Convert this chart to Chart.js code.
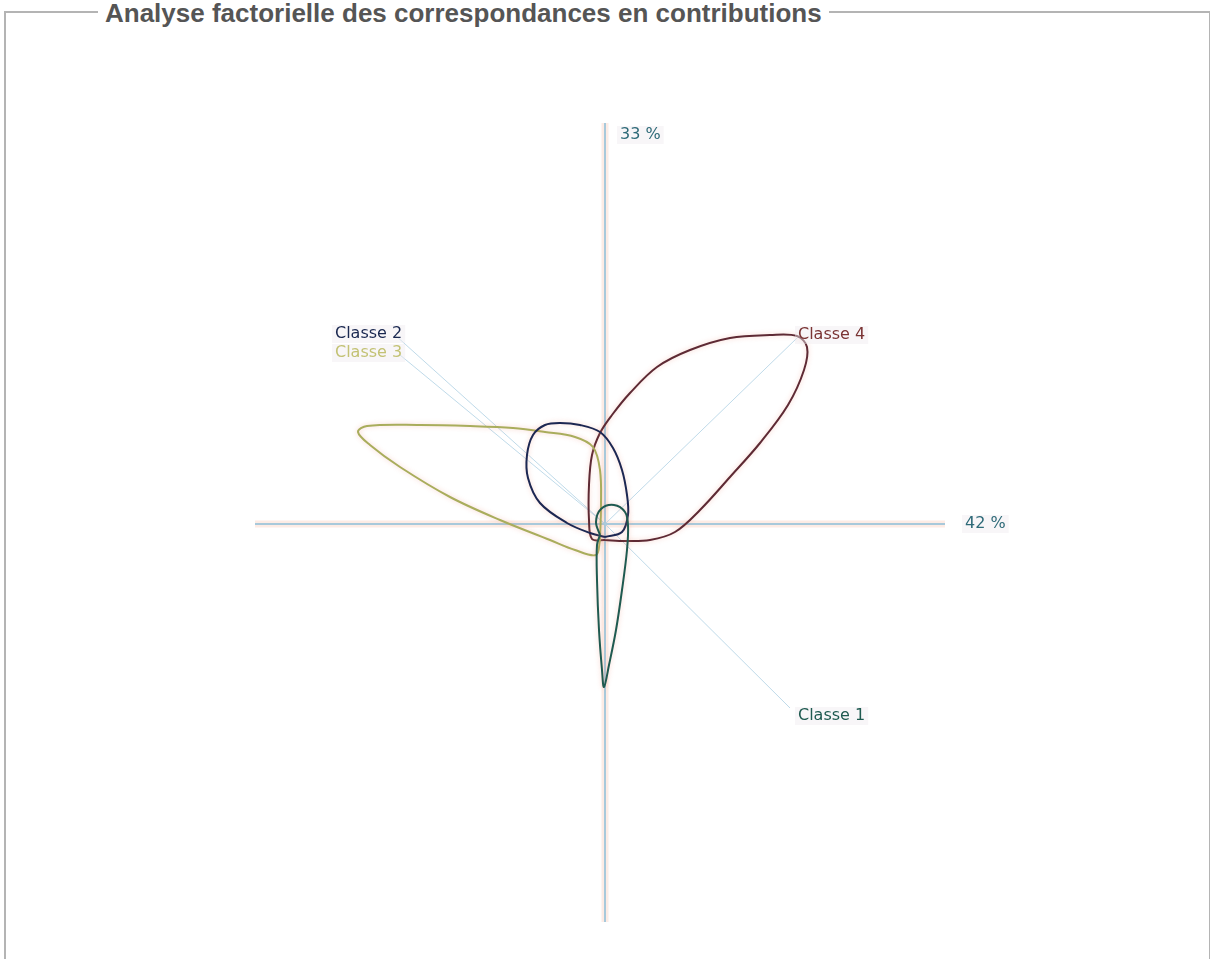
<!DOCTYPE html>
<html>
<head>
<meta charset="utf-8">
<script src="https://cdn.jsdelivr.net/npm/chart.js@4/dist/chart.umd.min.js"></script>
<style>
  html,body{margin:0;padding:0;background:#fff;width:1210px;height:959px;overflow:hidden;}
  #frame{position:absolute;left:4px;top:11px;width:1203px;height:960px;border-left:2px solid #b4b4b4;border-top:2px solid #b4b4b4;border-right:2px solid #b4b4b4;}
  #title{position:absolute;left:98px;top:0px;padding:0 7px;background:#fff;font:bold 26px "Liberation Sans",Arial,sans-serif;color:#555;white-space:nowrap;line-height:26px;}
  #c{position:absolute;left:0;top:0;}
</style>
</head>
<body>
<div id="frame"></div>
<div id="title">Analyse factorielle des correspondances en contributions</div>
<canvas id="c" width="1210" height="959"></canvas>
<script>
// Factor axes (percent of inertia)
const axisLabels = ['42 %', '33 %'];
const axisLabelPos = [[3.60, 0.00], [0.15, 3.89]];
const hAxis = [[-3.50, 0], [3.40, 0]];
const vAxis = [[0, 4.01], [0, -3.98]];

// Classes
const classNames = ['Classe 1', 'Classe 2', 'Classe 3', 'Classe 4'];
const classLabelPos = [[1.93, -1.92], [-2.70, 1.90], [-2.70, 1.71], [1.93, 1.89]];
const classRayEnd = [[1.85, -1.84], [-2.10, 1.89], [-2.05, 1.69], [1.92, 1.86]];
const classColors = ['#1f5a50', '#1c2752', '#a9ad5c', '#5e2a34'];
const classTextColors = ['#1f5a50', '#1a2850', '#c3c274', '#7a3434'];

// Contribution loops (x, y) per class
const loop1 = [[-0.05,-0.11],[-0.08,-0.21],[-0.08,-0.56],[-0.06,-1.06],[-0.03,-1.46],[-0.01,-1.63],[0.04,-1.41],[0.11,-1.06],[0.17,-0.66],[0.22,-0.26],[0.23,-0.01],[0.20,0.12],[0.09,0.19],[-0.04,0.15],[-0.09,0.02],[-0.05,-0.11]];
const loop2 = [[0,-0.13],[-0.15,-0.09],[-0.38,0.01],[-0.65,0.21],[-0.77,0.46],[-0.78,0.69],[-0.72,0.89],[-0.60,0.99],[-0.45,1.01],[-0.25,0.99],[-0.05,0.92],[0.08,0.76],[0.17,0.54],[0.22,0.29],[0.23,0.09],[0.17,-0.08],[0,-0.13]];
const loop3 = [[-0.05,-0.16],[-0.09,-0.31],[-0.30,-0.26],[-0.55,-0.16],[-1.05,0.04],[-1.55,0.27],[-2.05,0.57],[-2.35,0.79],[-2.47,0.92],[-2.38,0.98],[-1.85,0.99],[-1.35,0.98],[-0.92,0.96],[-0.60,0.92],[-0.30,0.87],[-0.12,0.77],[-0.05,0.54],[-0.04,0.19],[-0.05,-0.16]];
const loop4 = [[0,-0.16],[-0.13,-0.15],[-0.16,0.04],[-0.16,0.39],[-0.13,0.69],[-0.05,0.91],[0.07,1.09],[0.25,1.31],[0.52,1.57],[0.85,1.74],[1.25,1.86],[1.65,1.89],[1.92,1.88],[2.02,1.77],[1.99,1.54],[1.83,1.19],[1.55,0.81],[1.25,0.47],[0.95,0.14],[0.70,-0.08],[0.45,-0.16],[0.20,-0.17],[0,-0.16]];
const loops = [loop1, loop2, loop3, loop4];

const toPts = arr => arr.map(p => ({x: p[0], y: p[1]}));
const datasets = [];
// axes: soft pink halo + light blue line
[hAxis, vAxis].forEach(a => {
  datasets.push({data: toPts(a), borderColor: 'rgba(252,228,218,0.7)', borderWidth: 7, tension: 0, order: 4});
  datasets.push({data: toPts(a), borderColor: '#a8c9db', borderWidth: 2, tension: 0, order: 3});
});
// rays from origin to each class
classRayEnd.forEach(e => {
  datasets.push({data: toPts([[0, 0], e]), borderColor: 'rgba(170,205,225,0.75)', borderWidth: 1, tension: 0, order: 2});
});
// loops
loops.forEach((l, i) => {
  datasets.push({data: toPts(l), borderColor: classColors[i], borderWidth: 2, tension: 0.35, order: 1, kind: 'loop'});
});
datasets.forEach(d => { d.showLine = true; d.pointRadius = 0; d.fill = false; });

const textPlugin = {
  id: 'texts',
  beforeDatasetDraw(chart, args) {
    const ds = chart.data.datasets[args.index];
    if (ds.kind === 'loop') {
      chart.ctx.save();
      chart.ctx.shadowColor = 'rgba(240,150,130,0.45)';
      chart.ctx.shadowBlur = 5;
    }
  },
  afterDatasetDraw(chart, args) {
    const ds = chart.data.datasets[args.index];
    if (ds.kind === 'loop') chart.ctx.restore();
  },
  afterDatasetsDraw(chart) {
    const ctx = chart.ctx, xs = chart.scales.x, ys = chart.scales.y;
    ctx.save();
    ctx.font = '16px "DejaVu Sans", sans-serif';
    ctx.textBaseline = 'middle';
    ctx.textAlign = 'left';
    const draw = (txt, pos, col) => {
      const px = xs.getPixelForValue(pos[0]), py = ys.getPixelForValue(pos[1]);
      const w = ctx.measureText(txt).width;
      ctx.fillStyle = 'rgba(240,236,240,0.45)';
      ctx.fillRect(px - 3, py - 9, w + 6, 18);
      ctx.fillStyle = col;
      ctx.fillText(txt, px, py);
    };
    axisLabels.forEach((t, i) => draw(t, axisLabelPos[i], '#2e6a78'));
    classNames.forEach((t, i) => draw(t, classLabelPos[i], classTextColors[i]));
    ctx.restore();
  }
};

new Chart(document.getElementById('c'), {
  type: 'scatter',
  data: {datasets},
  options: {
    responsive: false,
    animation: false,
    layout: {padding: 0},
    plugins: {legend: {display: false}, tooltip: {enabled: false}},
    scales: {
      x: {type: 'linear', display: false, min: -6.05, max: 6.05},
      y: {type: 'linear', display: false, min: -4.35, max: 5.24}
    }
  },
  plugins: [textPlugin]
});
</script>
</body>
</html>
